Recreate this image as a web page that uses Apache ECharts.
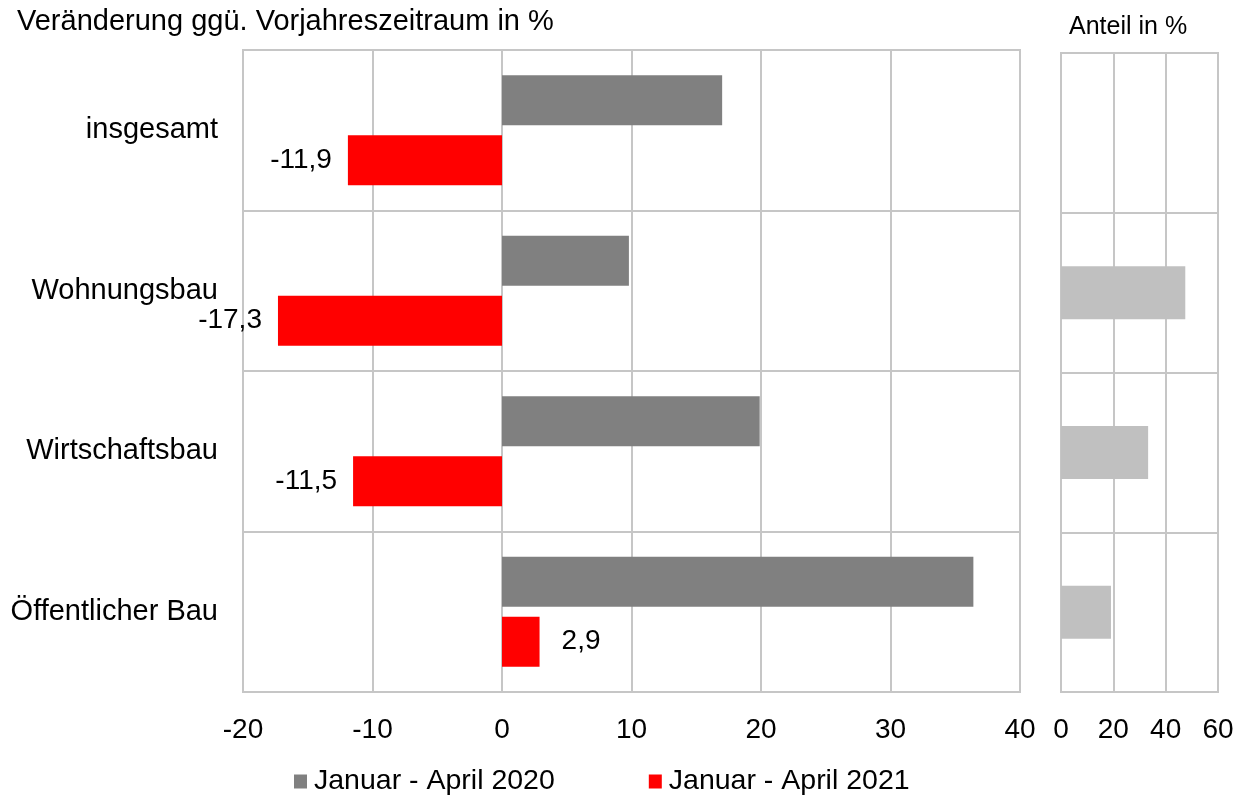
<!DOCTYPE html>
<html>
<head>
<meta charset="utf-8">
<script src="https://cdn.jsdelivr.net/npm/echarts@6/dist/echarts.min.js"></script>
<style>
  html, body { margin: 0; padding: 0; background: #fff; }
  #chart { width: 1245px; height: 796px; }
</style>
</head>
<body>
<div id="chart"></div>
<script>
// Kategorien und Werte
var categories = ['insgesamt', 'Wohnungsbau', 'Wirtschaftsbau', 'Öffentlicher Bau'];
var series2020 = [17.0, 9.8, 19.9, 36.4];
var series2021 = [-11.9, -17.3, -11.5, 2.9];
var anteil = [null, 47.5, 33.3, 19.1];
var mainTicks = [-20, -10, 0, 10, 20, 30, 40];
var anteilTicks = [0, 20, 40, 60];

var gridColor = '#c6c6c6';
var font = 'Liberation Sans, Arial, sans-serif';

function komma(v) {
    return v.toFixed(1).replace('.', ',');
}

var chart = echarts.init(document.getElementById('chart'));
var option = {
    backgroundColor: '#fff',
    animation: false,
    title: [
        {
            text: 'Veränderung ggü. Vorjahreszeitraum in %',
            left: 12, top: 2,
            textStyle: { color: '#000', fontSize: 29, fontWeight: 'normal', fontFamily: font }
        },
        {
            text: 'Anteil in %',
            left: 1064, top: 10,
            textStyle: { color: '#000', fontSize: 25, fontWeight: 'normal', fontFamily: font }
        }
    ],
    legend: {
        left: 289, top: 762,
        itemWidth: 13, itemHeight: 14, itemGap: 94,
        icon: 'rect',
        data: ['Januar - April 2020', 'Januar - April 2021'],
        textStyle: { color: '#000', fontSize: 28.5, fontFamily: font, padding: [0, 0, 0, 2] }
    },
    grid: [
        { left: 243, right: 225, top: 50, bottom: 104, show: true, borderColor: gridColor, borderWidth: 2 },
        { left: 1061, right: 27, top: 53, bottom: 104, show: true, borderColor: gridColor, borderWidth: 2 }
    ],
    xAxis: [
        {
            gridIndex: 0, type: 'value',
            min: mainTicks[0], max: mainTicks[mainTicks.length - 1], interval: 10,
            axisLine: { show: true, lineStyle: { color: gridColor, width: 2 } },
            axisTick: { show: false },
            splitLine: { show: true, lineStyle: { color: gridColor, width: 2 } },
            axisLabel: { color: '#000', fontSize: 28, fontFamily: font, margin: 24 }
        },
        {
            gridIndex: 1, type: 'value',
            min: anteilTicks[0], max: anteilTicks[anteilTicks.length - 1], interval: 20,
            axisLine: { show: true, lineStyle: { color: gridColor, width: 2 } },
            axisTick: { show: false },
            splitLine: { show: true, lineStyle: { color: gridColor, width: 2 } },
            axisLabel: { color: '#000', fontSize: 28, fontFamily: font, margin: 24 }
        }
    ],
    yAxis: [
        {
            gridIndex: 0, type: 'category', data: categories, inverse: true,
            axisLine: { show: true, lineStyle: { color: gridColor, width: 2 } },
            axisTick: { show: false },
            splitLine: { show: true, lineStyle: { color: gridColor, width: 2 } },
            axisLabel: { color: '#000', fontSize: 29, fontFamily: font, margin: 25, padding: [8, 0, 0, 0] }
        },
        {
            gridIndex: 1, type: 'category', data: categories, inverse: true,
            axisLine: { show: true, lineStyle: { color: gridColor, width: 2 } },
            axisTick: { show: false },
            splitLine: { show: true, lineStyle: { color: gridColor, width: 2 } },
            axisLabel: { show: false }
        }
    ],
    series: [
        {
            name: 'Januar - April 2020', type: 'bar',
            xAxisIndex: 0, yAxisIndex: 0,
            data: series2020, barWidth: 50, barGap: '20%',
            itemStyle: { color: '#808080' }
        },
        {
            name: 'Januar - April 2021', type: 'bar',
            xAxisIndex: 0, yAxisIndex: 0,
            data: series2021, barWidth: 50, barGap: '20%',
            itemStyle: { color: '#ff0000' },
            label: {
                show: true,
                color: '#000', fontSize: 28, fontFamily: font,
                position: 'left', distance: 16, padding: [4, 0, 0, 0],
                formatter: function (p) { return komma(p.value); }
            }
        },
        {
            name: 'Anteil', type: 'bar',
            xAxisIndex: 1, yAxisIndex: 1,
            data: anteil, barWidth: 53,
            itemStyle: { color: '#c0c0c0' }
        }
    ]
};
// positive Werte: Beschriftung rechts
option.series[1].data = series2021.map(function (v) {
    if (v >= 0) {
        return { value: v, label: { position: 'right', distance: 22 } };
    }
    return v;
});
chart.setOption(option);
</script>
</body>
</html>
